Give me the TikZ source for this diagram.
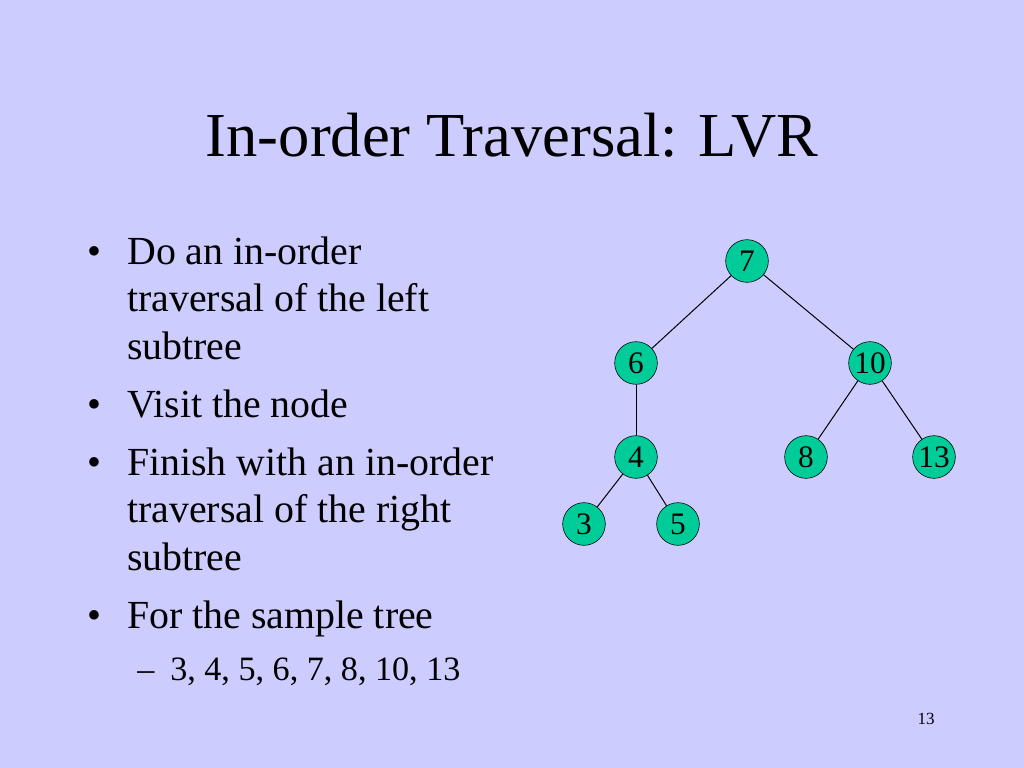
\documentclass[tikz,border=0pt]{standalone}
\usepackage{fontspec}
\setmainfont{Liberation Serif}
\usetikzlibrary{positioning}
\definecolor{slidebg}{HTML}{CCCCFF}
\definecolor{treefill}{HTML}{00CC99}
\begin{document}
\begin{tikzpicture}[x=0.703125pt,y=-0.703125pt]

      \fill[slidebg] (0,0) rectangle (1024,768);
      \useasboundingbox (0,0) rectangle (1024,768);

      \node[anchor=base] (title) at (512,157) {\fontsize{44}{52}\selectfont In-order Traversal: LVR};

      % multi-line items sit on the baseline of their last line
      \begin{scope}[every node/.style={anchor=base west,inner sep=0pt,align=left,
          font=\fontsize{28}{33.2}\selectfont}]
        \node (dot1) at (87,265) {\textbullet};
        \node (dot2) at (87,417) {\textbullet};
        \node (dot3) at (87,475) {\textbullet};
        \node (dot4) at (87,628) {\textbullet};
        \node (item1) at (127,359) {Do an in-order\\traversal of the left\\subtree};
        \node (item2) at (127,417) {Visit the node};
        \node (item3) at (127,570) {Finish with an in-order\\traversal of the right\\subtree};
        \node (item4) at (127,628) {For the sample tree};
      \end{scope}

      \begin{scope}[every node/.style={anchor=base west,inner sep=0pt,
          font=\fontsize{24}{28}\selectfont}]
        \node (dash) at (137,680) {--};
        \node (order) at (170,680) {3, 4, 5, 6, 7, 8, 10, 13};
      \end{scope}

      \node[anchor=base east,inner sep=0pt,font=\fontsize{12}{14}\selectfont] (page) at (935,724) {13};

      \begin{scope}[every node/.style={circle,draw,fill=treefill,minimum size=30pt,
          inner sep=0pt,font=\fontsize{22}{26}\selectfont}]
        \node (n7)  at (747,261) {7};
        \node (n6)  at (636,363) {6};
        \node (n10) at (870,363) {10};
        \node (n4)  at (636,457) {4};
        \node (n8)  at (806,457) {8};
        \node (n13) at (934,457) {13};
        \node (n3)  at (584,524) {3};
        \node (n5)  at (678,524) {5};
      \end{scope}

      \begin{scope}[every edge/.style={draw,line width=0.7pt}]
        \path (n7)  edge (n6);
        \path (n7)  edge (n10);
        \path (n6)  edge (n4);
        \path (n10) edge (n8);
        \path (n10) edge (n13);
        \path (n4)  edge (n3);
        \path (n4)  edge (n5);
      \end{scope}

    \end{tikzpicture}
\end{document}
